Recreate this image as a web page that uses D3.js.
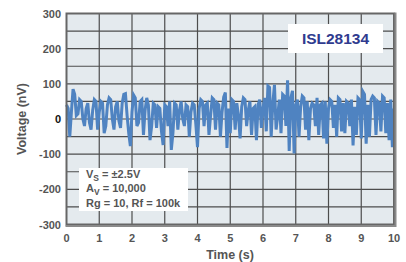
<!DOCTYPE html>
<html>
<head>
<meta charset="utf-8">
<script src="https://cdn.jsdelivr.net/npm/d3@7"></script>
<style>
  html, body { margin: 0; padding: 0; background: #fff; }
  svg { display: block; font-family: "Liberation Sans", Arial, sans-serif; }
</style>
</head>
<body>
<svg id="chart" width="406" height="262"></svg>
<script>
// noise trace, one value every 0.05 s (nV)
const noise = [
  40, 30, -50, 20, 85, 70, 10, 15, 55, 50, 0, -20, 30, 45, -10, -30, 25, 55, 50, -30,
  20, 50, 45, -40, -20, 40, 60, 55, 0, -30, 35, 50, -5, -25, 45, 70, 72, 10, -40, -77,
  20, 68, 60, -20, -10, 50, 55, -45, 25, 60, 40, -60, -20, 45, 40, -25, 35, 30, -35, -74,
  40, 35, -20, 50, -88, -40, 45, 40, -30, 25, 50, 0, -20, 40, 35, -50, 20, 45, 40, -15,
  -80, 30, 55, 50, -20, 40, 45, -45, 10, 60, 55, -30, 45, 40, -50, 20, 62, 75, -82, 30,
  -40, 55, 50, -30, 45, 10, -55, 35, 60, 55, -20, 25, 50, -45, 30, 35, -60, 40, 55, -25,
  30, 60, -35, 94, 90, -50, 45, 97, -30, 10, 55, -40, 70, 65, -20, 110, -91, 60, 80, -98,
  40, 55, -50, 35, 65, 60, -30, 50, -60, 30, 45, 40, -20, 60, -45, 40, 45, -55, 50, -70,
  30, 55, 50, -25, 40, -50, 60, 55, -35, 45, -40, 50, 45, -20, 55, -75, 35, -45, 60, 55,
  -55, 78, 70, -70, 40, -50, 55, 65, 60, -45, 50, 45, -35, 65, 60, -40, 45, -60, 55, -80, 30
];
const sampleStep = 0.05;
const xTicks = [0, 1, 2, 3, 4, 5, 6, 7, 8, 9, 10];
const yTicks = [-300, -200, -100, 0, 100, 200, 300];
const yGrid = d3.range(-300, 301, 50);
const title = 'ISL28134';
// [text, subscript?]
const conditions = [
  [['V', false], ['S', true], [' = ±2.5V', false]],
  [['A', false], ['V', true], [' = 10,000', false]],
  [['Rg = 10, Rf = 100k', false]]
];

const plotLeft = 66.5, plotRight = 394, plotTop = 13.5, plotBottom = 224.5;
const x = d3.scaleLinear().domain([0, 10]).range([plotLeft, plotRight]);
const y = d3.scaleLinear().domain([-300, 300]).range([plotBottom, plotTop]);

const svg = d3.select('#chart');

// plot background
svg.append('rect')
  .attr('x', plotLeft).attr('y', plotTop)
  .attr('width', plotRight - plotLeft).attr('height', plotBottom - plotTop)
  .attr('fill', '#e4eaee');

// grid
svg.append('g').selectAll('line').data(xTicks.slice(1, -1)).join('line')
  .attr('x1', d => x(d)).attr('x2', d => x(d))
  .attr('y1', plotTop).attr('y2', plotBottom)
  .attr('stroke', '#4d4d4d').attr('stroke-width', 1.2);
svg.append('g').selectAll('line').data(yGrid.slice(1, -1)).join('line')
  .attr('x1', plotLeft).attr('x2', plotRight)
  .attr('y1', d => y(d)).attr('y2', d => y(d))
  .attr('stroke', '#4d4d4d').attr('stroke-width', 1.2);

// trace
const line = d3.line()
  .x((d, i) => x(i * sampleStep))
  .y(d => y(d));
svg.append('path')
  .datum(noise)
  .attr('d', line)
  .attr('fill', 'none')
  .attr('stroke', '#4f83c1')
  .attr('stroke-width', 3);

// frame, with heavier right/bottom edge
svg.append('rect')
  .attr('x', plotLeft).attr('y', plotTop)
  .attr('width', plotRight - plotLeft).attr('height', plotBottom - plotTop)
  .attr('fill', 'none').attr('stroke', '#666').attr('stroke-width', 2);
svg.append('path')
  .attr('d', `M${plotRight + 1.5},${plotTop - 1} V${plotBottom + 1.5} H${plotLeft - 1}`)
  .attr('fill', 'none').attr('stroke', '#8a8a8a').attr('stroke-width', 2);

// title box
svg.append('rect')
  .attr('x', 288).attr('y', 24).attr('width', 95).attr('height', 29)
  .attr('fill', '#fff');
svg.append('text')
  .attr('x', 335.5).attr('y', 44)
  .attr('text-anchor', 'middle')
  .attr('font-size', 15.5).attr('font-weight', 'bold')
  .attr('fill', '#2f3b8f')
  .text(title);

// conditions box
svg.append('rect')
  .attr('x', 79).attr('y', 168).attr('width', 109).attr('height', 43)
  .attr('fill', '#fff');
conditions.forEach((parts, i) => {
  const t = svg.append('text')
    .attr('x', 86).attr('y', 177.5 + i * 14.5)
    .attr('font-size', 11).attr('font-weight', 'bold').attr('fill', '#555');
  let lowered = false;
  parts.forEach(([s, sub]) => {
    const sp = t.append('tspan').text(s);
    if (sub) { sp.attr('font-size', 8.5).attr('dy', 3); lowered = true; }
    else if (lowered) { sp.attr('dy', -3); lowered = false; }
  });
});

// y tick labels
svg.append('g').selectAll('text').data(yTicks).join('text')
  .attr('x', 61).attr('y', d => y(d) + 4)
  .attr('text-anchor', 'end')
  .attr('font-size', 11).attr('font-weight', 'bold')
  .attr('fill', d => d === 0 ? '#111' : '#555')
  .text(d => d);

// x tick labels
svg.append('g').selectAll('text').data(xTicks).join('text')
  .attr('x', d => x(d)).attr('y', 242)
  .attr('text-anchor', 'middle')
  .attr('font-size', 11).attr('font-weight', 'bold')
  .attr('fill', '#555')
  .text(d => d);

// axis titles
svg.append('text')
  .attr('x', 230).attr('y', 258.5)
  .attr('text-anchor', 'middle')
  .attr('font-size', 12.5).attr('font-weight', 'bold').attr('fill', '#555')
  .text('Time (s)');
svg.append('text')
  .attr('transform', 'translate(26,119) rotate(-90)')
  .attr('text-anchor', 'middle')
  .attr('font-size', 12.5).attr('font-weight', 'bold').attr('fill', '#555')
  .text('Voltage (nV)');
</script>
</body>
</html>
